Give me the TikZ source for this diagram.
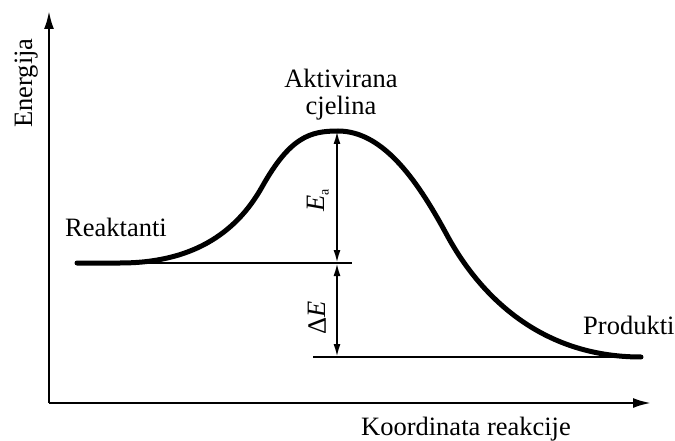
\documentclass[tikz,border=0pt]{standalone}
\usepackage{fontspec}
\setmainfont{Liberation Serif}
\usetikzlibrary{arrows.meta}
\begin{document}
\begin{tikzpicture}[x=1pt,y=-1pt,
  lbl/.style={font=\fontsize{26.5}{27}\selectfont, inner sep=0pt},
  axis/.style={line width=2.4pt, -{Latex[length=18pt,width=10pt]}},
  level/.style={line width=2pt},
  dim/.style={line width=2pt, {Latex[length=13pt,width=7pt]}-{Latex[length=13pt,width=7pt]}},
  curve/.style={line width=5pt, line cap=round}]
\useasboundingbox (0,0) rectangle (675,441);
\coordinate (O) at (49,403);
\coordinate (ytip) at (49,11);
\coordinate (xtip) at (651,403);
\draw[axis] (O) -- (ytip);
\draw[axis] (O) -- (xtip);
\coordinate (rs) at (77,263);
\coordinate (re) at (352,263);
\coordinate (ps) at (313,357);
\coordinate (pe) at (640,357);
\coordinate (peak) at (337,131);
\coordinate (rl) at (337,263);
\coordinate (pl) at (337,357);
\draw[level] (rs) -- (re);
\draw[level] (ps) -- (pe);
\draw[curve] (77,263) -- (120,263)
  .. controls (190,263) and (235,235) .. (262,187)
  .. controls (290,137) and (310,131) .. (338,131)
  .. controls (385,131) and (420,185) .. (448,237)
  .. controls (480,295) and (540,357) .. (641,357);
\draw[dim] (peak) -- (rl);
\draw[dim] (rl) -- (pl);
\node[lbl, rotate=90] (ea) at (318,200) {\textit{E}\raisebox{-0.35ex}{\fontsize{14}{14}\selectfont a}};
\node[lbl, rotate=90] (de) at (317,318) {Δ\textit{E}};
\node[lbl, anchor=base] (akt) at (341,88) {Aktivirana};
\node[lbl, anchor=base] (cje) at (341,115) {cjelina};
\node[lbl, anchor=base west] (rea) at (65,236) {Reaktanti};
\node[lbl, anchor=base west] (pro) at (583,334) {Produkti};
\node[lbl, anchor=base] (koo) at (466,435) {Koordinata reakcije};
\node[lbl, rotate=90, anchor=base] (ene) at (32,83) {Energija};
\end{tikzpicture}
\end{document}
